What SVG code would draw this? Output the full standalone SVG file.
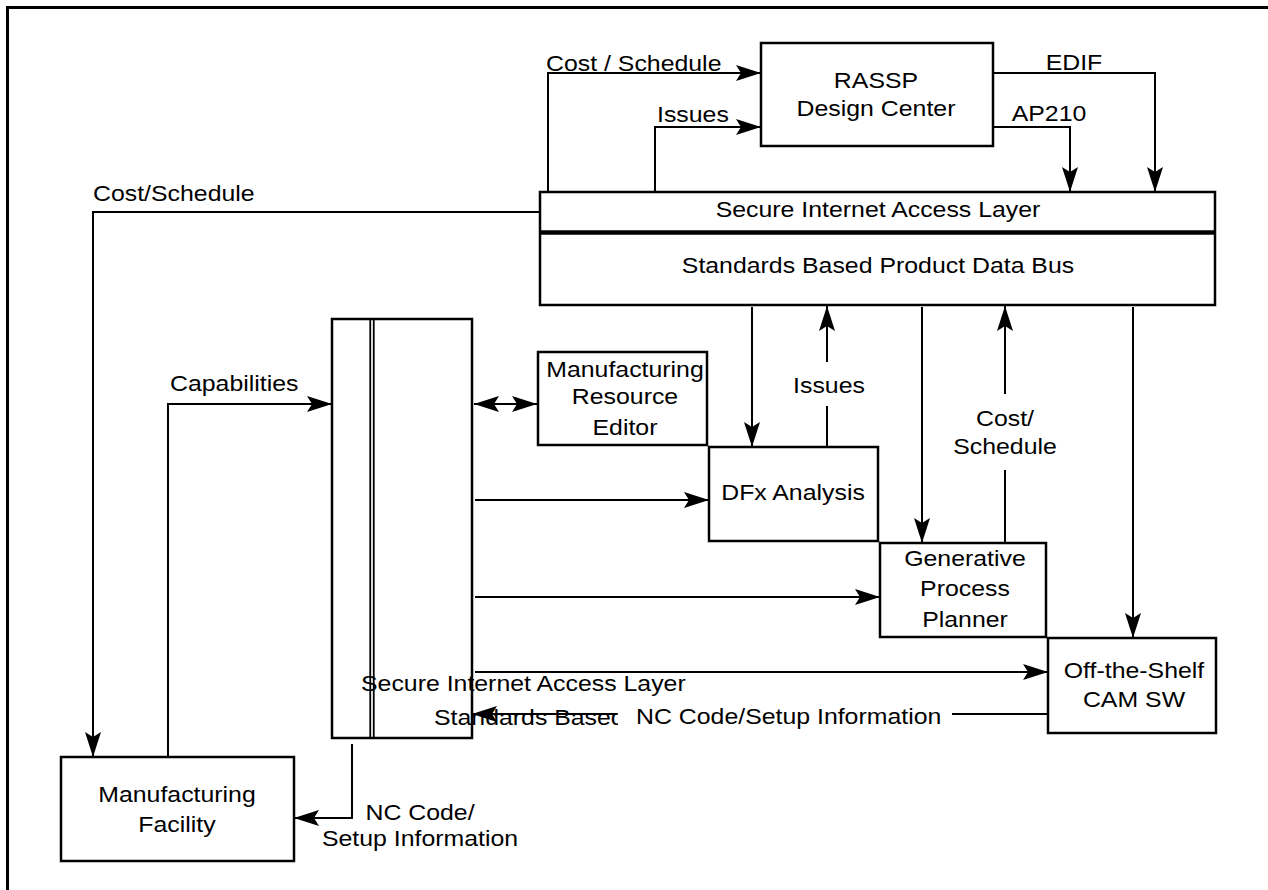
<svg xmlns="http://www.w3.org/2000/svg" width="1268" height="890" viewBox="0 0 1268 890">
<style>
  .box { fill: #fff; stroke: #000; stroke-width: 2.5; }
  .ln { fill: none; stroke: #000; stroke-width: 2; }
  .arr { marker-end: url(#ah); }
  text { font-family: "Liberation Sans", Arial, Helvetica, sans-serif; font-size: 22px; fill: #000; }
  .m { text-anchor: middle; }
  .s { text-anchor: start; }
</style>
<defs>
  <marker id="ah" markerUnits="userSpaceOnUse" viewBox="0 0 25 16" markerWidth="25" markerHeight="16" refX="25" refY="8" orient="auto-start-reverse">
    <path d="M25,8 L0,0 L5,8 L0,16 Z" fill="#000"/>
  </marker>
  <clipPath id="ghostclip"><rect x="0" y="690" width="618" height="50"/></clipPath>
</defs>
<rect x="0" y="0" width="1268" height="890" fill="#fff"/>
<path d="M7.5,890 V7.5 H1268" fill="none" stroke="#000" stroke-width="3"/>

<g id="node-rassp">
  <rect class="box" x="761" y="43" width="232" height="103"/>
  <text class="m" transform="translate(876,88) scale(1.13,1)">RASSP</text>
  <text class="m" transform="translate(876,116) scale(1.13,1)">Design Center</text>
</g>

<g id="node-bus">
  <rect class="box" x="540" y="192" width="675" height="113"/>
  <line x1="540" y1="232.5" x2="1215" y2="232.5" stroke="#000" stroke-width="4.5"/>
  <text class="m" transform="translate(878,217) scale(1.13,1)">Secure Internet Access Layer</text>
  <text class="m" transform="translate(878,273) scale(1.13,1)">Standards Based Product Data Bus</text>
</g>

<g id="node-bar">
  <rect class="box" x="332" y="319" width="140" height="419"/>
  <line x1="370.25" y1="319" x2="370.25" y2="738" stroke="#000" stroke-width="1.8"/>
  <line x1="373.75" y1="319" x2="373.75" y2="738" stroke="#000" stroke-width="1.8"/>
</g>

<g id="node-mre">
  <rect class="box" x="538" y="352" width="169" height="93"/>
  <text class="m" transform="translate(625,377) scale(1.13,1)">Manufacturing</text>
  <text class="m" transform="translate(625,404) scale(1.13,1)">Resource</text>
  <text class="m" transform="translate(625,435) scale(1.13,1)">Editor</text>
</g>

<g id="node-dfx">
  <rect class="box" x="709" y="447" width="169" height="94"/>
  <text class="m" transform="translate(793,500) scale(1.13,1)">DFx Analysis</text>
</g>

<g id="node-gpp">
  <rect class="box" x="880" y="543" width="166" height="94"/>
  <text class="m" transform="translate(965,566) scale(1.13,1)">Generative</text>
  <text class="m" transform="translate(965,596) scale(1.13,1)">Process</text>
  <text class="m" transform="translate(965,627) scale(1.13,1)">Planner</text>
</g>

<g id="node-ots">
  <rect class="box" x="1048" y="638" width="168" height="95"/>
  <text class="m" transform="translate(1134,678) scale(1.13,1)">Off-the-Shelf</text>
  <text class="m" transform="translate(1134,707) scale(1.13,1)">CAM SW</text>
</g>

<g id="node-mf">
  <rect class="box" x="61" y="757" width="233" height="104"/>
  <text class="m" transform="translate(177,802) scale(1.13,1)">Manufacturing</text>
  <text class="m" transform="translate(177,832) scale(1.13,1)">Facility</text>
</g>

<g id="connectors">
  <path class="ln arr" d="M548,192 V73 H761"/>
  <path class="ln arr" d="M655,192 V127 H761"/>
  <path class="ln arr" d="M994,73 H1155 V192"/>
  <path class="ln arr" d="M994,127 H1070 V192"/>
  <path class="ln arr" d="M540,212 H93 V757"/>
  <path class="ln arr" d="M168,757 V404 H332"/>
  <path class="ln" d="M474,404 H537" marker-start="url(#ah)" marker-end="url(#ah)"/>
  <path class="ln arr" d="M752,307 V447"/>
  <path class="ln arr" d="M827,447 V406 M827,362 V306"/>
  <path class="ln arr" d="M922,307 V543"/>
  <path class="ln arr" d="M1005,543 V470 M1005,394 V306"/>
  <path class="ln arr" d="M1133,307 V638"/>
  <path class="ln arr" d="M475,500 H709"/>
  <path class="ln arr" d="M475,597 H880"/>
  <path class="ln arr" d="M475,672 H1048"/>
  <path class="ln arr" d="M1048,714 H952 M617,714 H472"/>
  <path class="ln arr" d="M352,744 V818 H294"/>
</g>

<g id="labels">
  <text class="s" transform="translate(546,71) scale(1.13,1)">Cost / Schedule</text>
  <text class="s" transform="translate(657,122) scale(1.13,1)">Issues</text>
  <text class="m" transform="translate(1074,70) scale(1.13,1)">EDIF</text>
  <text class="m" transform="translate(1049,121) scale(1.13,1)">AP210</text>
  <text class="s" transform="translate(93,201) scale(1.13,1)">Cost/Schedule</text>
  <text class="s" transform="translate(170,391) scale(1.13,1)">Capabilities</text>
  <text class="m" transform="translate(829,393) scale(1.13,1)">Issues</text>
  <text class="m" transform="translate(1005,426) scale(1.13,1)">Cost/</text>
  <text class="m" transform="translate(1005,454) scale(1.13,1)">Schedule</text>
  <text class="s" transform="translate(361,691) scale(1.13,1)">Secure Internet Access Layer</text>
  <g clip-path="url(#ghostclip)">
    <text class="s" transform="translate(434,725) scale(1.13,1)">Standards Based</text>
  </g>
  <text class="s" transform="translate(636,724) scale(1.13,1)">NC Code/Setup Information</text>
  <text class="m" transform="translate(420,820) scale(1.13,1)">NC Code/</text>
  <text class="m" transform="translate(420,846) scale(1.13,1)">Setup Information</text>
</g>
</svg>
